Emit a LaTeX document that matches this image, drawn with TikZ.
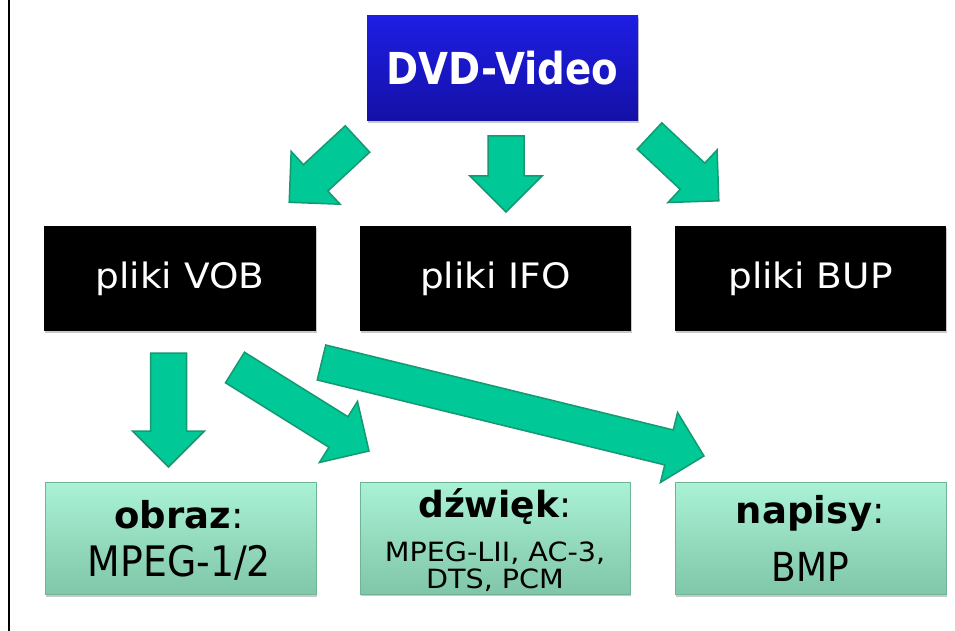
\documentclass[tikz,border=0pt]{standalone}
\usepackage{fontspec}
\setmainfont{DejaVu Sans}
\newfontfamily\dvdfont[FakeStretch=0.88]{DejaVu Sans}
\newfontfamily\plikifont[FakeStretch=1.07]{DejaVu Sans}
\newfontfamily\mpegfont[FakeStretch=0.9]{DejaVu Sans}
\newfontfamily\smallfont[FakeStretch=1.08]{DejaVu Sans}
\usetikzlibrary{shadows}
\definecolor{blueT}{RGB}{30,30,228}
\definecolor{blueB}{RGB}{20,16,166}
\definecolor{mintT}{RGB}{170,242,214}
\definecolor{mintB}{RGB}{128,198,168}
\definecolor{mintD}{RGB}{112,180,150}
\definecolor{arrowfill}{RGB}{0,200,150}
\definecolor{arrowline}{RGB}{22,152,112}
\tikzset{
  boxshadow/.style={drop shadow={shadow xshift=1.2pt,shadow yshift=-2pt,opacity=.35,fill=black!60}},
  topbox/.style={boxshadow,top color=blueT,bottom color=blueB,draw=none,
    minimum width=271,minimum height=105,inner sep=0,text=white,font=\dvdfont\bfseries\fontsize{44}{50}\selectfont},
  filebox/.style={boxshadow,fill=black,draw=none,minimum width=271,minimum height=105,inner sep=0,
    text=white,font=\plikifont\fontsize{35}{40}\selectfont},
  mintbox/.style={boxshadow,top color=mintT,bottom color=mintB,draw=mintD,line width=.8,
    minimum width=270,minimum height=112,inner sep=0},
  headtxt/.style={anchor=base,inner sep=0,font=\fontsize{37}{44}\selectfont},
  bodytxt/.style={anchor=base,inner sep=0,font=\mpegfont\fontsize{42}{48}\selectfont},
  smalltxt/.style={anchor=base,inner sep=0,font=\smallfont\fontsize{26.5}{30}\selectfont},
  barrow/.style={fill=arrowfill,draw=arrowline,line width=1.5,line join=miter}
}
\newcommand\blockarrow[2]{%
  \pgfpointdiff{\pgfpointanchor{#1}{center}}{\pgfpointanchor{#2}{center}}%
  \pgfgetlastxy{\bax}{\bay}%
  \pgfmathsetmacro\baang{atan2(\bay,\bax)}%
  \pgfmathsetmacro\balen{veclen(\bax,\bay)}%
  \pgfmathsetmacro\bahb{\balen-36}%
  \draw[barrow,shift={(#1)},rotate=\baang] (0,-18) -- (\bahb,-18) -- (\bahb,-36) -- (\balen,0)
    -- (\bahb,36) -- (\bahb,18) -- (0,18) -- cycle;
}
\begin{document}
\begin{tikzpicture}[x=1pt,y=1pt]
\useasboundingbox (0,0) rectangle (955,-631);
\fill[white] (0,0) rectangle (955,-631);
\draw[line width=2] (8.7,0) -- (8.7,-631);

% boxes
\node[topbox] (dvd) at (502.5,-68.5) {DVD-Video};
\node[filebox,minimum width=272] (vob) at (180,-278.5) {pliki VOB};
\node[filebox] (ifo) at (495.5,-278.5) {pliki IFO};
\node[filebox] (bup) at (810.5,-278.5) {pliki BUP};
\node[mintbox,minimum width=271] (obraz) at (180.5,-538.5) {};
\node[mintbox] (dzwiek) at (495,-538) {};
\node[mintbox,minimum width=271] (napisy) at (810.5,-538.5) {};

% texts in green boxes
\node[headtxt] (obrazH) at (179,-528) {\textbf{obraz}:};
\node[bodytxt] (obrazB) at (179.5,-576) {MPEG-1/2};
\node[headtxt,font=\fontsize{36}{42}\selectfont] (dzwiekH) at (495,-517) {\textbf{dźwięk}:};
\node[smalltxt] (dzwiekB1) at (495,-561) {MPEG-LII, AC-3,};
\node[smalltxt] (dzwiekB2) at (495,-588) {DTS, PCM};
\node[headtxt] (napisyH) at (810.5,-523) {\textbf{napisy}:};
\node[bodytxt,font=\mpegfont\fontsize{40}{46}\selectfont] (napisyB) at (810.5,-581) {BMP};

% arrow end points
\coordinate (a1t) at (357.5,-139);
\coordinate (a1h) at (289,-202.5);
\coordinate (a2t) at (506,-136);
\coordinate (a2h) at (506,-212);
\coordinate (a3t) at (649.5,-136);
\coordinate (a3h) at (719,-201);
\coordinate (b1t) at (168.5,-353);
\coordinate (b1h) at (168.5,-467);
\coordinate (b2t) at (235,-367.5);
\coordinate (b2h) at (369,-451);
\coordinate (b3t) at (321.5,-362.5);
\coordinate (b3h) at (704,-456);

\blockarrow{a1t}{a1h}
\blockarrow{a2t}{a2h}
\blockarrow{a3t}{a3h}
\blockarrow{b1t}{b1h}
\blockarrow{b2t}{b2h}
\blockarrow{b3t}{b3h}
\end{tikzpicture}
\end{document}
